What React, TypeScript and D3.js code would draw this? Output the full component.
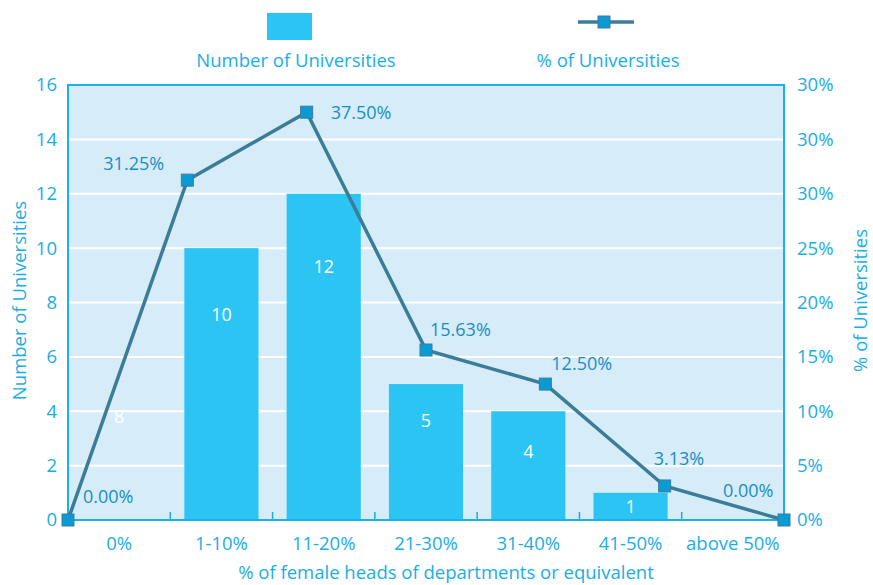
import React from "react";
import * as d3 from "d3";

const categories = ["0%", "1-10%", "11-20%", "21-30%", "31-40%", "41-50%", "above 50%"];
const counts = [0, 10, 12, 5, 4, 1, 0];
const percents = [0, 31.25, 37.5, 15.63, 12.5, 3.13, 0];
const percentLabels = ["0.00%", "31.25%", "37.50%", "15.63%", "12.50%", "3.13%", "0.00%"];
const barLabels = ["8", "10", "12", "5", "4", "1", ""];
const leftTicks = [0, 2, 4, 6, 8, 10, 12, 14, 16];
const rightTickLabels = ["0%", "5%", "10%", "15%", "20%", "25%", "30%", "30%", "30%"];

// label layout (offsets in px relative to point)
const pctLabelDx = [15, -84, 24, 4, 6, -11, -61];
const pctLabelDy = [-23, -16, 1, -20, -20, -27, -29];
// bar label vertical placement, in data units
const barLabelAt = [3.8, 7.55, 9.3, 3.65, 2.5, 0.5, 0];

const W = 873, H = 585;
const L = 68, R = 784, T = 85, B = 520;
const FONT = "'Open Sans', sans-serif";
const TICK_COLOR = "#1aaee6";
const LABEL_COLOR = "#1a8dc6";
const LINE_COLOR = "#3b7d98";
const BAR_COLOR = "#2cc5f3";
const MARK_COLOR = "#0a9ad4";
const FS = 18.5;

export default function App() {
  const y = d3.scaleLinear().domain([0, 16]).range([B, T]);
  const yPct = d3.scaleLinear().domain([0, 40]).range([B, T]);
  const xb = d3.scaleBand().domain(categories).range([L, R]).paddingInner(0).paddingOuter(0);
  const xp = d3.scalePoint().domain(categories).range([L, R]);
  const barW = xb.bandwidth() * 0.725;
  const line = d3
    .line<number>()
    .x((_, i) => xp(categories[i])!)
    .y((d) => yPct(d));
  const pts = percents.map((p, i) => ({ x: xp(categories[i])!, y: yPct(p), i }));

  return (
    <svg width={W} height={H} style={{ position: "absolute", left: 0, top: 0, display: "block" }}
      fontFamily={FONT}>
      <rect x={0} y={0} width={W} height={H} fill="#ffffff" />
      {/* plot background */}
      <rect x={L} y={T} width={R - L} height={B - T} fill="#d6edf9" />
      {/* gridlines */}
      {leftTicks.slice(1, -1).map((t) => (
        <line key={t} x1={L} x2={R} y1={y(t)} y2={y(t)} stroke="#ffffff" strokeWidth={2} />
      ))}
      {/* bars */}
      {counts.map((c, i) =>
        c > 0 ? (
          <rect key={i} x={xb(categories[i])! + (xb.bandwidth() - barW) / 2} y={y(c)} width={barW}
            height={B - y(c)} fill={BAR_COLOR} />
        ) : null
      )}
      {/* category separator ticks */}
      {categories.slice(1).map((c) => (
        <line key={c} x1={xb(c)!} x2={xb(c)!} y1={B} y2={B - 8} stroke="#1ba9e1" strokeWidth={1.5} />
      ))}
      {/* bar labels */}
      {barLabels.map((t, i) =>
        t ? (
          <text key={i} x={xb(categories[i])! + xb.bandwidth() / 2} y={y(barLabelAt[i])} dy="0.35em"
            textAnchor="middle" fill="#ffffff" fontSize={18}>{t}</text>
        ) : null
      )}
      {/* frame */}
      <rect x={L} y={T} width={R - L} height={B - T} fill="none" stroke="#1ab0ea" strokeWidth={2} />
      {/* line */}
      <path d={line(percents)!} fill="none" stroke={LINE_COLOR} strokeWidth={3.5} />
      {pts.map((p) => (
        <rect key={p.i} x={p.x - 6} y={p.y - 6} width={12} height={12} fill={MARK_COLOR}
          stroke={LINE_COLOR} strokeWidth={1} />
      ))}
      {pts.map((p) => (
        <text key={"l" + p.i} x={p.x + pctLabelDx[p.i]} y={p.y + pctLabelDy[p.i]} dy="0.35em"
          fill={LABEL_COLOR} fontSize={18}>{percentLabels[p.i]}</text>
      ))}
      {/* left axis labels */}
      {leftTicks.map((t) => (
        <text key={t} x={57} y={y(t)} dy="0.35em" textAnchor="end" fill={TICK_COLOR} fontSize={FS}>{t}</text>
      ))}
      {/* right axis labels */}
      {leftTicks.map((t, i) => (
        <text key={t} x={797} y={y(t)} dy="0.35em" textAnchor="start" fill={TICK_COLOR} fontSize={FS}>
          {rightTickLabels[i]}
        </text>
      ))}
      {/* category labels */}
      {categories.map((c) => (
        <text key={c} x={xb(c)! + xb.bandwidth() / 2} y={544} dy="0.35em" textAnchor="middle"
          fill={TICK_COLOR} fontSize={FS}>{c}</text>
      ))}
      {/* axis titles */}
      <text x={446} y={573} dy="0.35em" textAnchor="middle" fill={TICK_COLOR} fontSize={FS}>
        % of female heads of departments or equivalent
      </text>
      <text transform={`translate(20,${(T + B) / 2 - 2}) rotate(-90)`} dy="0.35em" textAnchor="middle"
        fill={TICK_COLOR} fontSize={FS}>Number of Universities</text>
      <text transform={`translate(861,${(T + B) / 2 - 2}) rotate(-90)`} dy="0.35em" textAnchor="middle"
        fill={TICK_COLOR} fontSize={FS}>% of Universities</text>
      {/* legend */}
      <rect x={267} y={13} width={45} height={27} fill={BAR_COLOR} />
      <text x={296} y={61} dy="0.35em" textAnchor="middle" fill={TICK_COLOR} fontSize={FS}>
        Number of Universities
      </text>
      <line x1={578} x2={634} y1={22} y2={22} stroke={LINE_COLOR} strokeWidth={3.5} />
      <rect x={598} y={16} width={12} height={12} fill={MARK_COLOR} stroke={LINE_COLOR} strokeWidth={1} />
      <text x={608} y={61} dy="0.35em" textAnchor="middle" fill={TICK_COLOR} fontSize={FS}>
        % of Universities
      </text>
    </svg>
  );
}
